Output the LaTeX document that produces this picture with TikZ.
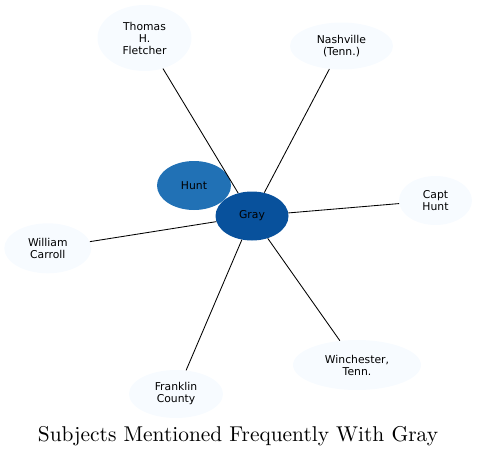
\documentclass[tikz,border=0pt]{standalone}
\usepackage{graphicx}
\usepackage{fontspec}
\newfontfamily\labelfont{DejaVu Sans}
\usetikzlibrary{shapes.geometric}
\definecolor{peri}{HTML}{F7FBFF}
\definecolor{central}{HTML}{08519C}
\definecolor{second}{HTML}{2171B5}
\tikzset{
  ell/.style={ellipse, inner sep=0pt, align=center, font=\labelfont\fontsize{10.8}{12}\selectfont},
  edge/.style={draw=black, line width=0.85pt},
}
\begin{document}
\begin{tikzpicture}[x=1pt,y=-1pt]
\useasboundingbox (0,0) rectangle (477,455);
\node[ell, fill=peri, minimum width=94, minimum height=66] (fl) at (144.5,38) {Thomas\\H.\\Fletcher};
\node[ell, fill=peri, minimum width=103, minimum height=47] (na) at (341.5,46) {Nashville\\(Tenn.)};
\node[ell, fill=peri, minimum width=73, minimum height=49] (ch) at (435.5,200.5) {Capt\\Hunt};
\node[ell, fill=peri, minimum width=87, minimum height=50] (wc) at (47.8,248.3) {William\\Carroll};
\node[ell, fill=peri, minimum width=128, minimum height=50] (wi) at (357,365) {Winchester,\\Tenn.};
\node[ell, fill=peri, minimum width=94, minimum height=48] (fc) at (176,394) {Franklin\\County};
\node[ell, fill=second, minimum width=74, minimum height=49] (hu) at (194,185.5) {Hunt};
\node[ell, fill=central, minimum width=73, minimum height=49] (gr) at (252,216) {Gray};
\draw[edge] (gr) -- (fl);
\draw[edge] (gr) -- (na);
\draw[edge] (gr) -- (ch);
\draw[edge] (gr) -- (wc);
\draw[edge] (gr) -- (wi);
\draw[edge] (gr) -- (fc);
\node[anchor=base, inner sep=0pt] (title) at (238,441) {\scalebox{2.14}{\rmfamily Subjects Mentioned Frequently With Gray}};
\end{tikzpicture}
\end{document}
